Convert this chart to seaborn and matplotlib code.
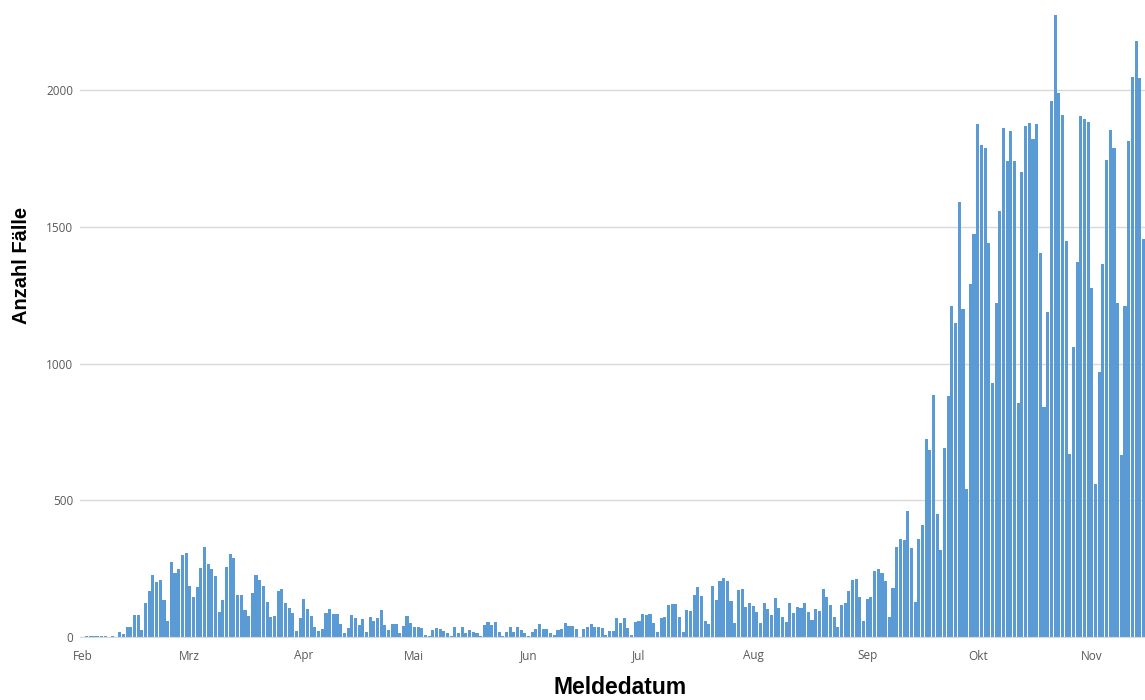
import pandas as pd
import seaborn as sns
import matplotlib.pyplot as plt
import numpy as np

# daily reported cases (one list per month)
feb = [0, 2, 3, 3, 2, 2, 3, 0, 2, 0, 20, 12, 35, 35, 80, 80, 25, 125, 167, 225,
       200, 210, 135, 60, 273, 235, 250, 300, 308]
mrz = [185, 145, 183, 253, 329, 267, 250, 224, 90, 137, 256, 304, 289, 155, 153, 98,
       76, 161, 227, 210, 188, 128, 73, 78, 167, 176, 124, 106, 88, 23, 70]
apr = [139, 102, 77, 38, 23, 28, 89, 101, 84, 84, 46, 13, 32, 80, 68, 44, 66, 20,
       72, 60, 70, 98, 45, 24, 48, 48, 13, 40, 75, 50]
mai = [35, 35, 32, 7, 2, 26, 32, 28, 22, 16, 4, 35, 16, 35, 13, 26, 20, 13, 4, 44,
       56, 44, 56, 20, 4, 20, 35, 20, 35, 26, 16]
jun = [2, 20, 28, 48, 28, 28, 16, 7, 26, 28, 52, 40, 40, 28, 1, 28, 38, 46, 38, 35,
       32, 6, 23, 23, 68, 52, 68, 32, 7, 56]
jul = [60, 84, 80, 84, 50, 20, 68, 72, 117, 121, 121, 74, 17, 99, 96, 154, 184, 150,
       60, 46, 188, 135, 206, 215, 206, 132, 50, 172, 174, 109, 123]
aug = [113, 90, 50, 126, 101, 80, 142, 105, 72, 56, 126, 89, 111, 105, 126, 93, 62,
       101, 96, 174, 145, 117, 72, 35, 117, 123, 170, 209, 212, 145, 60]
sep = [138, 145, 243, 249, 235, 206, 74, 178, 328, 359, 355, 462, 325, 129, 357, 410,
       725, 685, 886, 450, 318, 690, 880, 1210, 1150, 1590, 1200, 540, 1290, 1475]
okt = [1875, 1800, 1790, 1440, 930, 1220, 1560, 1860, 1740, 1850, 1740, 855, 1700,
       1870, 1880, 1820, 1875, 1405, 840, 1190, 1960, 2275, 1990, 1910, 1450, 670,
       1060, 1370, 1905, 1895, 1885]
nov = [1275, 560, 970, 1365, 1745, 1855, 1790, 1220, 665, 1210, 1815, 2050, 2180,
       2045, 1455]

month_labels = ["Feb", "Mrz", "Apr", "Mai", "Jun", "Jul", "Aug", "Sep", "Okt", "Nov"]

values = feb + mrz + apr + mai + jun + jul + aug + sep + okt + nov
dates = pd.date_range("2020-02-01", periods=len(values), freq="D")
df = pd.DataFrame({"day": np.arange(len(values)), "cases": values, "date": dates})

month_pos = df.loc[df["date"].dt.day == 1, "day"].tolist()

sns.set_style("white")
plt.rcParams["font.family"] = ["Open Sans", "DejaVu Sans"]

fig = plt.figure(figsize=(11.45, 7.0), dpi=100)
ax = fig.add_axes([80 / 1145, 63 / 700, 1065 / 1145, 637 / 700])

sns.barplot(data=df, x="day", y="cases", color="#5B9BD5", saturation=1,
            width=0.84, errorbar=None, linewidth=0, ax=ax)

ax.set_xlim(-0.81, 288.43)
ax.set_ylim(0, 2330)
ax.set_yticks([0, 500, 1000, 1500, 2000])
ax.set_xticks(month_pos)
ax.set_xticklabels(month_labels)

ax.yaxis.grid(True, color="#D9D9D9", linewidth=1)
ax.set_axisbelow(True)
for s in ["left", "top", "right"]:
    ax.spines[s].set_visible(False)
ax.spines["bottom"].set_color("#D9D9D9")
ax.tick_params(axis="both", length=0, labelsize=8.5, labelcolor="#595959")
ax.tick_params(axis="y", pad=5)
ax.tick_params(axis="x", pad=9)

ax.set_xlabel("")
ax.set_ylabel("")
fig.text(22 / 1145, 1 - 265 / 700, "Anzahl Fälle", rotation=90, ha="center",
         va="center", fontsize=14.5, fontweight="bold", color="black",
         family="Liberation Sans")
fig.text(620 / 1145, 1 - 688 / 700, "Meldedatum", ha="center", va="center",
         fontsize=16.5, fontweight="bold", color="black", family="Liberation Sans")

fig.savefig("out.png", dpi=100)
